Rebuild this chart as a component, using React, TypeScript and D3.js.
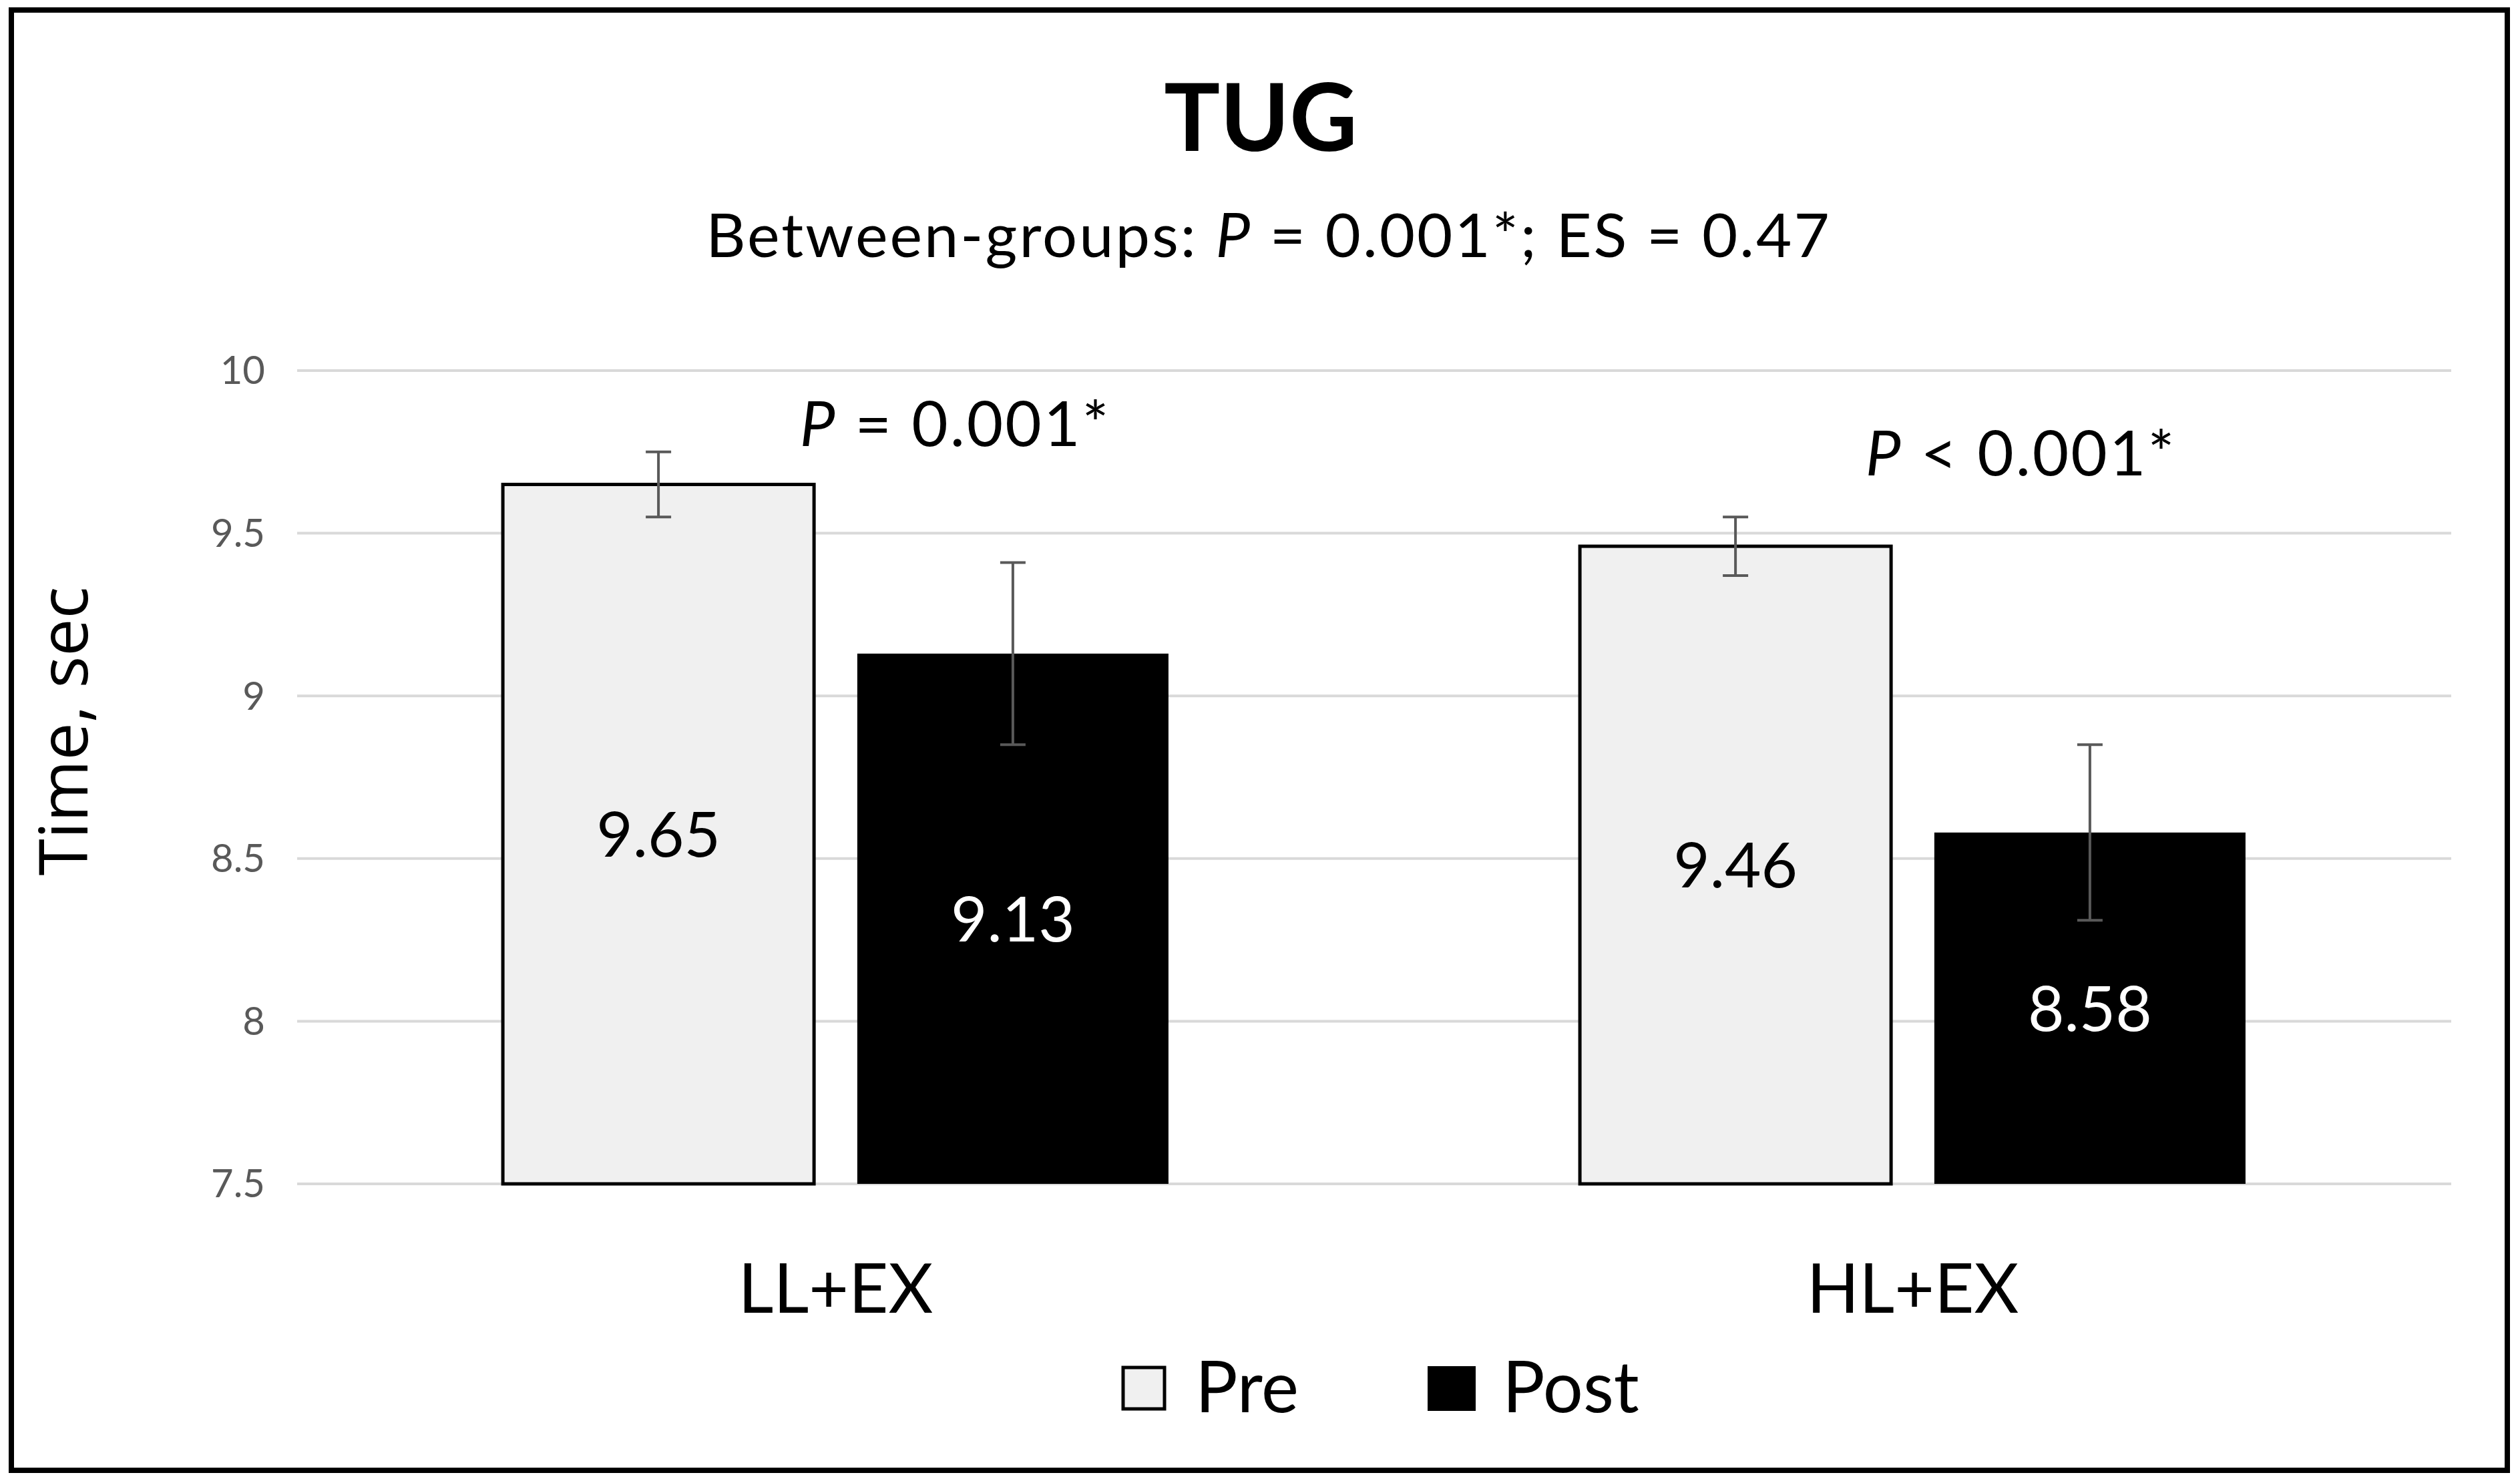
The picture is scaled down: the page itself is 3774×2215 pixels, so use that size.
import * as React from "react";
import * as d3 from "d3";

const categories = ["LL+EX", "HL+EX"];
const seriesNames = ["Pre", "Post"];
const preValues = [9.65, 9.46];
const postValues = [9.13, 8.58];
const preErrors = [0.1, 0.09];
const postErrors = [0.28, 0.27];
const yTicks = [7.5, 8, 8.5, 9, 9.5, 10];
const pSigns = ["=", "<"];
const pValues = ["0.001*", "0.001*"];

const W = 3774;
const H = 2215;
const FONT = "Lato, 'Open Sans', sans-serif";

export default function App() {
  const plotLeft = 445;
  const plotRight = 3671;
  const plotTop = 555;
  const plotBottom = 1773;

  const x = d3.scaleBand().domain(categories).range([plotLeft, plotRight]).padding(0);
  const groupW = x.bandwidth() * 0.618;
  const inner = d3.scaleBand().domain(seriesNames).range([0, groupW]).paddingInner(0.122);
  const y = d3.scaleLinear().domain([7.5, 10]).range([plotBottom, plotTop]);

  const rows = categories.flatMap((c, i) => [
    { cat: c, s: "Pre", v: preValues[i], e: preErrors[i] },
    { cat: c, s: "Post", v: postValues[i], e: postErrors[i] },
  ]);
  const barX = (d) => x(d.cat) + (x.bandwidth() - groupW) / 2 + inner(d.s);
  const bw = inner.bandwidth();

  return (
    <svg width={W} height={H} style={{ position: "absolute", left: 0, top: 0, background: "#fff" }}>
      <rect x={0} y={0} width={W} height={H} fill="#fff" />
      <rect x={17} y={15} width={3738} height={2187} fill="none" stroke="#000" strokeWidth={8} />

      <text x={1888} y={226} textAnchor="middle" fontFamily={FONT} fontWeight="bold" fontSize={140}>TUG</text>
      <text x={1900} y={385} textAnchor="middle" fontFamily={FONT} fontSize={92} letterSpacing={3}>
        Between-groups: <tspan fontStyle="italic">P</tspan> = 0.001*; ES = 0.47
      </text>

      {/* grid + ticks */}
      {yTicks.map((t) => (
        <g key={t}>
          <line x1={plotLeft} x2={plotRight} y1={y(t)} y2={y(t)} stroke="#d9d9d9" strokeWidth={4} />
          <text x={397} y={y(t)} dy="0.35em" textAnchor="end" fontFamily={FONT} fontSize={58} fill="#595959">
            {d3.format("")(t)}
          </text>
        </g>
      ))}

      <text transform={`translate(96,1095) rotate(-90)`} dy="0.35em" textAnchor="middle" fontFamily="'Open Sans', sans-serif" fontSize={100}>
        Time, sec
      </text>

      {/* bars */}
      {rows.map((d, i) => (
        <g key={i}>
          <rect
            x={barX(d)}
            y={y(d.v)}
            width={bw}
            height={y(7.5) - y(d.v)}
            fill={d.s === "Pre" ? "#f0f0f0" : "#000"}
            stroke="#000"
            strokeWidth={d.s === "Pre" ? 5 : 0}
          />
          <g stroke="#595959" strokeWidth={4}>
            <line x1={barX(d) + bw / 2} x2={barX(d) + bw / 2} y1={y(d.v + d.e)} y2={y(d.v - d.e)} />
            <line x1={barX(d) + bw / 2 - 19} x2={barX(d) + bw / 2 + 19} y1={y(d.v + d.e)} y2={y(d.v + d.e)} />
            <line x1={barX(d) + bw / 2 - 19} x2={barX(d) + bw / 2 + 19} y1={y(d.v - d.e)} y2={y(d.v - d.e)} />
          </g>
          <text
            x={barX(d) + bw / 2}
            y={y((d.v + 7.5) / 2)}
            dy="0.36em"
            textAnchor="middle"
            fontFamily={FONT}
            fontSize={94}
            fill={d.s === "Pre" ? "#000" : "#fff"}
          >
            {d3.format(".2f")(d.v)}
          </text>
        </g>
      ))}

      {/* within-group p values */}
      {categories.map((c, i) => (
        <text key={c} x={x(c) + x.bandwidth() / 2 + (i === 0 ? 179 : 162)} y={i === 0 ? 668 : 712} textAnchor="middle" fontFamily={FONT} fontSize={94} letterSpacing={3}>
          <tspan fontStyle="italic">P</tspan> {pSigns[i]} {pValues[i]}
        </text>
      ))}

      {/* category labels */}
      {categories.map((c) => (
        <text key={c} x={x(c) + x.bandwidth() / 2} y={1966} textAnchor="middle" fontFamily={FONT} fontSize={103}>
          {c}
        </text>
      ))}

      {/* legend */}
      <g>
        <rect x={1682} y={2048} width={62} height={62} fill="#f0f0f0" stroke="#000" strokeWidth={5} />
        <text x={1790} y={2115} fontFamily={FONT} fontSize={106}>{seriesNames[0]}</text>
        <rect x={2138} y={2046} width={72} height={67} fill="#000" />
        <text x={2250} y={2115} fontFamily={FONT} fontSize={106}>{seriesNames[1]}</text>
      </g>
    </svg>
  );
}
